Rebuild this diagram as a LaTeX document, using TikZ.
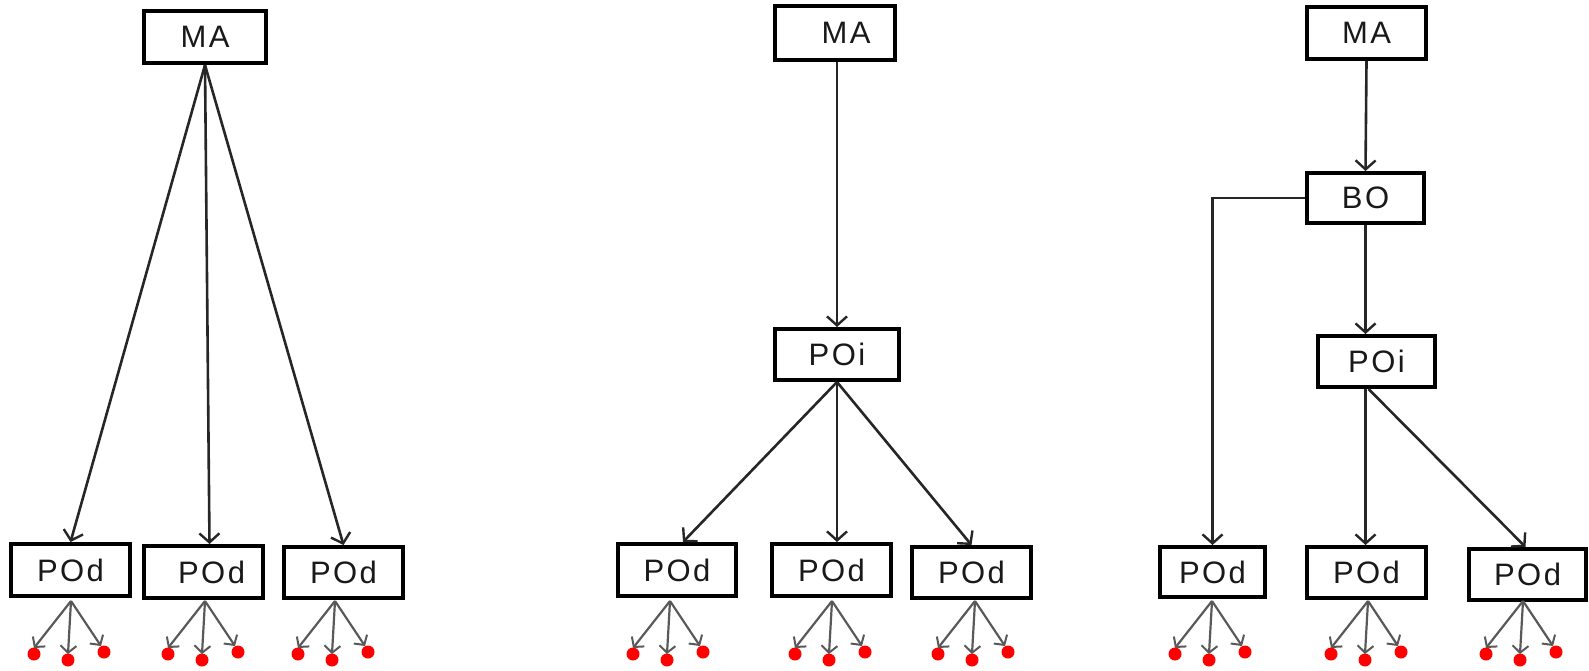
\documentclass[tikz,border=0pt]{standalone}
\usepackage{fontspec}
\setmainfont{Liberation Sans}
\newfontfamily\lblfont[LetterSpace=8]{Liberation Sans}
\usetikzlibrary{arrows.meta,calc}
\tikzset{
  box/.style={draw=black, line width=1.8pt, fill=white, inner sep=0pt,
    font=\lblfont\fontsize{15.5}{17}\selectfont, text=black!90},
  conn/.style={draw=black!85, line width=1.3pt,
    -{Straight Barb[length=4.5pt,width=10pt,line width=1.2pt]}},
  leaf/.style={draw=black!65, line width=1.1pt,
    -{Straight Barb[length=3.5pt,width=8pt,line width=1pt]}},
  rdot/.style={circle, fill=red, draw=none, inner sep=0pt, minimum size=6.5pt},
}
\newcommand\bx[6]{\node[box, minimum width={(#4-3.6)*0.5pt}, minimum height={(#5-3.6)*0.5pt}] (#1) at (#2,#3) {#6};}
\newcommand\leaves[2]{%
  \coordinate (#1o) at (#2,601);
  \node[rdot] (#1a) at ($(#2,654)+(-37,0)$) {};
  \node[rdot] (#1b) at ($(#2,660)+(-3,0)$) {};
  \node[rdot] (#1c) at ($(#2,652)+(33,0)$) {};
  \draw[leaf] (#1o) -- ($(#1a.center)+(0,-6)$);
  \draw[leaf] (#1o) -- ($(#1b.center)+(0,-6)$);
  \draw[leaf] (#1o) -- ($(#1c.center)+(-3,-6)$);
}
\begin{document}
\begin{tikzpicture}[x=0.5pt, y=-0.5pt]
\useasboundingbox (0,0) rectangle (1589,670);
% ---------- panel 1
\bx{ma1}{205}{37}{126}{56}{MA}
\bx{pod11}{70.5}{570}{123}{56}{POd}
\bx{pod12}{203.5}{572}{123}{56}{\hspace*{8pt}POd}
\bx{pod13}{343.5}{572.5}{123}{55}{POd}
\draw[conn] (ma1.south) -- (pod11.north);
\draw[conn] (ma1.south) -- ($(pod12.north)+(6,0)$);
\draw[conn] (ma1.south) -- (pod13.north);
\leaves{pod11}{71}
\leaves{pod12}{205}
\leaves{pod13}{335}
% ---------- panel 2
\bx{ma2}{835}{33}{124}{58}{\hspace*{11pt}MA}
\bx{poi2}{837}{354.5}{128}{55}{POi}
\bx{pod21}{677}{570}{122}{56}{POd}
\bx{pod22}{831.5}{570}{123}{56}{POd}
\bx{pod23}{971.5}{572.5}{123}{55}{POd}
\draw[conn] (poi2.north |- ma2.south) -- (poi2.north);
\draw[conn] (poi2.south) -- ($(pod21.north)+(6,0)$);
\draw[conn] (poi2.south) -- (poi2.south |- pod22.north);
\draw[conn] (poi2.south) -- (pod23.north);
\leaves{pod21}{670}
\leaves{pod22}{832}
\leaves{pod23}{975}
% ---------- panel 3
\bx{ma3}{1366.5}{33}{123}{56}{MA}
\bx{bo}{1365.5}{198}{121}{54}{BO}
\bx{poi3}{1376.5}{361.5}{121}{55}{POi}
\bx{pod31}{1212.5}{572}{109}{54}{POd}
\bx{pod32}{1366.5}{572.5}{123}{55}{POd}
\bx{pod33}{1527.5}{574.5}{121}{55}{POd}
\draw[conn] (ma3.south) -- (bo.north);
\draw[conn] (bo.south) -- (bo.south |- poi3.north);
\coordinate (poi3b) at (bo.south |- poi3.south);
\draw[conn] (poi3b) -- (poi3b |- pod32.north);
\draw[conn] ($(poi3b)+(3,0)$) -- ($(pod33.north)+(-2,0)$);
\draw[conn] (bo.west) -| (pod31.north);
\leaves{pod31}{1212}
\leaves{pod32}{1368}
\leaves{pod33}{1523}
\end{tikzpicture}
\end{document}
